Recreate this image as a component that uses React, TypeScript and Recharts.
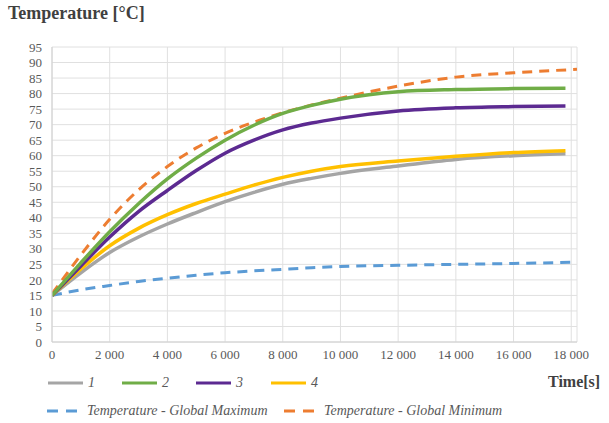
import { CartesianGrid, Line, LineChart, XAxis, YAxis } from "recharts";

// time [s]
const times = [0, 1000, 2000, 3000, 4000, 5000, 6000, 7000, 8000, 9000, 10000, 12000, 14000, 16000, 17800];
const globalTimes = [0, 1000, 2000, 3000, 4000, 5000, 6000, 7000, 8000, 9000, 10000, 12000, 14000, 16000, 18200];

// temperature [°C]
const case1 = [15, 22.3, 28.8, 33.8, 38, 41.7, 45.2, 48.2, 50.8, 52.7, 54.3, 56.7, 58.8, 60, 60.6];
const case2 = [15, 25.5, 35.5, 44.5, 52.5, 59.2, 65, 69.8, 73.6, 76.2, 78.2, 80.6, 81.3, 81.6, 81.7];
const case3 = [15, 24.5, 33.8, 42, 48.8, 55.2, 60.8, 65, 68.3, 70.5, 72.1, 74.4, 75.4, 75.8, 76];
const case4 = [15, 23.5, 31, 36.6, 41, 44.6, 47.6, 50.5, 53, 55, 56.5, 58.3, 59.8, 61, 61.6];
const globalMax = [15, 16.8, 18.2, 19.5, 20.5, 21.5, 22.3, 22.9, 23.4, 23.9, 24.3, 24.7, 25, 25.3, 25.7];
const globalMin = [15.5, 28, 39.5, 49, 56.5, 62.5, 67.2, 70.8, 73.8, 76.3, 78.5, 82.4, 85.3, 86.7, 87.8];

const xTicks = [0, 2000, 4000, 6000, 8000, 10000, 12000, 14000, 16000, 18000];
const yTicks = [0, 5, 10, 15, 20, 25, 30, 35, 40, 45, 50, 55, 60, 65, 70, 75, 80, 85, 90, 95];

const FONT = "'Liberation Serif', 'DejaVu Serif', 'Times New Roman', serif";

const toPoints = (ts: number[], vs: number[]) => ts.map((t, i) => ({ t, v: vs[i] }));

const fmtThousands = (v: number) =>
  v >= 1000 ? `${Math.floor(v / 1000)} ${String(v % 1000).padStart(3, "0")}` : String(v);

function LegendItem({
  left,
  top,
  color,
  dashed,
  label,
}: {
  left: number;
  top: number;
  color: string;
  dashed?: boolean;
  label: string;
}) {
  return (
    <div
      style={{
        position: "absolute",
        left,
        top,
        display: "flex",
        alignItems: "center",
        fontFamily: FONT,
        fontStyle: "italic",
        fontSize: 14,
        color: "#595959",
        whiteSpace: "nowrap",
      }}
    >
      <svg width={35} height={6} style={{ marginRight: 5 }}>
        <line
          x1={0}
          y1={3}
          x2={35}
          y2={3}
          stroke={color}
          strokeWidth={3}
          strokeDasharray={dashed ? "11 8" : undefined}
        />
      </svg>
      {label}
    </div>
  );
}

export default function App() {
  return (
    <div
      style={{
        position: "absolute",
        left: 0,
        top: 0,
        width: 609,
        height: 423,
        background: "#fff",
        fontFamily: FONT,
      }}
    >
      <div
        style={{
          position: "absolute",
          left: 8,
          top: 3,
          fontFamily: FONT,
          fontWeight: 700,
          fontSize: 18,
          color: "#404040",
        }}
      >
        Temperature [°C]
      </div>

      <LineChart
        width={609}
        height={423}
        margin={{ top: 47, right: 32, left: 22, bottom: 51 }}
        style={{ fontFamily: FONT }}
      >
        <CartesianGrid stroke="#e0e0e0" vertical horizontal />
        <XAxis
          type="number"
          dataKey="t"
          domain={[0, 18200]}
          ticks={xTicks}
          tickFormatter={fmtThousands}
          allowDataOverflow
          height={30}
          tickLine={false}
          axisLine={{ stroke: "#d0d0d0" }}
          tick={{ fill: "#595959", fontSize: 13, fontFamily: FONT }}
        />
        <YAxis
          type="number"
          domain={[0, 95]}
          ticks={yTicks}
          interval={0}
          width={30}
          tickLine={false}
          tickMargin={4}
          axisLine={{ stroke: "#d0d0d0" }}
          tick={{ fill: "#595959", fontSize: 13, fontFamily: FONT }}
        />
        <Line
          data={toPoints(globalTimes, globalMax)}
          dataKey="v"
          type="monotone"
          stroke="#5b9bd5"
          strokeWidth={3}
          strokeDasharray="10 7"
          dot={false}
          isAnimationActive={false}
        />
        <Line
          data={toPoints(times, case1)}
          dataKey="v"
          type="monotone"
          stroke="#a5a5a5"
          strokeWidth={3.5}
          dot={false}
          isAnimationActive={false}
        />
        <Line
          data={toPoints(times, case4)}
          dataKey="v"
          type="monotone"
          stroke="#ffc000"
          strokeWidth={3.5}
          dot={false}
          isAnimationActive={false}
        />
        <Line
          data={toPoints(globalTimes, globalMin)}
          dataKey="v"
          type="monotone"
          stroke="#ed7d31"
          strokeWidth={3}
          strokeDasharray="10 7"
          dot={false}
          isAnimationActive={false}
        />
        <Line
          data={toPoints(times, case3)}
          dataKey="v"
          type="monotone"
          stroke="#5c2a91"
          strokeWidth={3.5}
          dot={false}
          isAnimationActive={false}
        />
        <Line
          data={toPoints(times, case2)}
          dataKey="v"
          type="monotone"
          stroke="#70ad47"
          strokeWidth={3.5}
          dot={false}
          isAnimationActive={false}
        />
      </LineChart>

      <div
        style={{
          position: "absolute",
          left: 548,
          top: 373,
          fontFamily: FONT,
          fontWeight: 700,
          fontSize: 16,
          color: "#404040",
        }}
      >
        Time[s]
      </div>

      <LegendItem left={48} top={375} color="#a5a5a5" label="1" />
      <LegendItem left={122} top={375} color="#70ad47" label="2" />
      <LegendItem left={196} top={375} color="#5c2a91" label="3" />
      <LegendItem left={271} top={375} color="#ffc000" label="4" />
      <LegendItem left={47} top={403} color="#5b9bd5" dashed label="Temperature - Global Maximum" />
      <LegendItem left={284} top={403} color="#ed7d31" dashed label="Temperature - Global Minimum" />
    </div>
  );
}
